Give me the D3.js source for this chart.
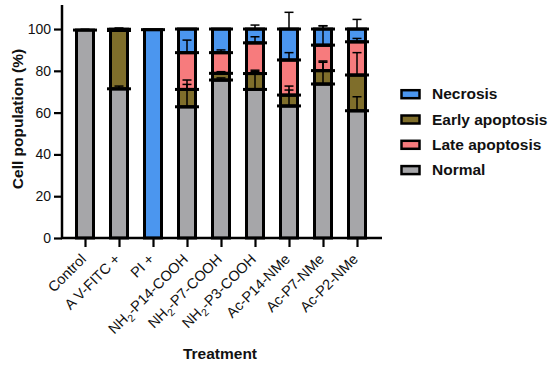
<!DOCTYPE html>
<html>
<head>
<meta charset="utf-8">
<script src="https://cdn.jsdelivr.net/npm/d3@7"></script>
<style>
  html, body { margin: 0; padding: 0; background: #fff; }
  svg { display: block; font-family: Arial, "Liberation Sans", sans-serif; }
</style>
</head>
<body>
<svg id="chart" width="550" height="365"></svg>
<script>
// ---- data ----
const categories = ["Control", "A V-FITC +", "PI +", "NH2-P14-COOH", "NH2-P7-COOH", "NH2-P3-COOH", "Ac-P14-NMe", "Ac-P7-NMe", "Ac-P2-NMe"];
const normal      = [99.5, 71.4, 0,    62.8, 75.6, 71.1, 63.2, 73.7, 60.9];
const early       = [0,    27.9, 0,    8.3,  3.2,  7.6,  5.2,  6.4,  17.1];
const late        = [0,    0.3,  0,    17.6, 9.9,  14.7, 16.8, 12.2, 15.9];
const necrosis    = [0,    0.3,  99.7, 11.3, 11.3, 6.6,  14.8, 7.7,  6.1];
const normalErr   = [0.4,  1.3,  0,    10.7, 1.0,  8.5,  9.5,  11.0, 6.7];
const earlyErr    = [0,    1.2,  0,    4.5,  0.8,  1.6,  2.4,  4.0,  10.7];
const lateErr     = [0,    0,    0,    6.0,  1.3,  2.9,  3.5,  9.3,  1.6];
const necrosisErr = [0,    0,    0,    0,    0,    1.9,  8.0,  1.5,  4.6];
const legendOrder = ["Necrosis", "Early apoptosis", "Late apoptosis", "Normal"];
const yTicks = [0, 20, 40, 60, 80, 100];

// stacking order bottom->top: Normal, Early, Late, Necrosis
const stackOrder = [
  { name: "Normal", values: normal, err: normalErr, color: "#a6a6a9" },
  { name: "Early apoptosis", values: early, err: earlyErr, color: "#7f6e2b" },
  { name: "Late apoptosis", values: late, err: lateErr, color: "#f77b7d" },
  { name: "Necrosis", values: necrosis, err: necrosisErr, color: "#4b96ef" }
];

const svg = d3.select("#chart");
const x = d3.scalePoint().domain(categories).range([85, 357]);
const y = d3.scaleLinear().domain([0, 111.5]).range([238, 5]);
const barW = 17;

// bars
const g = svg.append("g");
categories.forEach((c, i) => {
  let base = 0;
  const segs = [];
  stackOrder.forEach(s => {
    const v = s.values[i];
    segs.push({ y0: base, y1: base + v, color: s.color, err: s.err[i], v });
    base += v;
  });
  const cx = x(c);
  segs.forEach(sg => {
    if (sg.v <= 0) return;
    g.append("rect")
      .attr("x", cx - barW / 2).attr("width", barW)
      .attr("y", y(sg.y1)).attr("height", y(sg.y0) - y(sg.y1))
      .attr("fill", sg.color)
      .attr("stroke", "#000").attr("stroke-width", 3);
  });
  // error bars (upward from each segment top)
  segs.forEach(sg => {
    if (sg.v <= 0 || sg.err <= 0) return;
    g.append("line")
      .attr("x1", cx).attr("x2", cx)
      .attr("y1", y(sg.y1)).attr("y2", y(sg.y1 + sg.err))
      .attr("stroke", "#000").attr("stroke-width", 1.5);
    g.append("line")
      .attr("x1", cx - 4.5).attr("x2", cx + 4.5)
      .attr("y1", y(sg.y1 + sg.err)).attr("y2", y(sg.y1 + sg.err))
      .attr("stroke", "#000").attr("stroke-width", 1.5);
  });
  // thick boundary lines at segment tops
  segs.forEach(sg => {
    if (sg.v <= 0) return;
    g.append("line")
      .attr("x1", cx - barW / 2 - 3.5).attr("x2", cx + barW / 2 + 3.5)
      .attr("y1", y(sg.y1)).attr("y2", y(sg.y1))
      .attr("stroke", "#000").attr("stroke-width", 3);
  });
});

// axes
const yAxis = svg.append("g").attr("transform", "translate(62,0)")
  .call(d3.axisLeft(y).tickValues(yTicks).tickSize(8).tickPadding(3).tickSizeOuter(0));
yAxis.select(".domain").remove();
yAxis.selectAll(".tick line").attr("stroke", "#000").attr("stroke-width", 2.2);
yAxis.selectAll(".tick text").attr("font-size", 14).attr("fill", "#111")
  .attr("font-family", "Arial, 'Liberation Sans', sans-serif");
svg.append("line").attr("x1", 62).attr("x2", 62).attr("y1", y(111.5)).attr("y2", 239)
  .attr("stroke", "#000").attr("stroke-width", 2.5);

const xAxis = svg.append("g").attr("transform", "translate(0,238)")
  .call(d3.axisBottom(x).tickSize(9).tickFormat(""));
xAxis.select(".domain").remove();
xAxis.selectAll(".tick line").attr("stroke", "#000").attr("stroke-width", 2.2);
svg.append("line").attr("x1", 61).attr("x2", 382).attr("y1", 238).attr("y2", 238)
  .attr("stroke", "#000").attr("stroke-width", 2.5);

// x tick labels rotated, with subscript for NH2
categories.forEach(c => {
  const t = svg.append("text")
    .attr("transform", `translate(${x(c) + 2},${260}) rotate(-45)`)
    .attr("text-anchor", "end")
    .attr("font-size", 14.5)
    .attr("fill", "#111");
  if (c.startsWith("NH2")) {
    t.append("tspan").text("NH");
    t.append("tspan").text("2").attr("font-size", 10.5).attr("dy", 4);
    t.append("tspan").text(c.slice(3)).attr("dy", -4);
  } else {
    t.text(c);
  }
});

// axis titles
svg.append("text").attr("transform", "translate(23,119) rotate(-90)")
  .attr("text-anchor", "middle").attr("font-size", 15.5).attr("font-weight", "bold")
  .attr("fill", "#111").text("Cell population (%)");
svg.append("text").attr("x", 220).attr("y", 359)
  .attr("text-anchor", "middle").attr("font-size", 15.5).attr("font-weight", "bold")
  .attr("fill", "#111").text("Treatment");

// legend
const legend = svg.append("g");
legendOrder.forEach((name, i) => {
  const s = stackOrder.find(d => d.name === name);
  const cy = 94.2 + i * 25.3;
  legend.append("rect").attr("x", 401.5).attr("y", cy - 4).attr("width", 18).attr("height", 8)
    .attr("fill", s.color).attr("stroke", "#000").attr("stroke-width", 2.5);
  legend.append("text").attr("x", 432).attr("y", cy + 5.2)
    .attr("font-size", 15.5).attr("font-weight", "bold").attr("fill", "#111").text(name);
});
</script>
</body>
</html>
